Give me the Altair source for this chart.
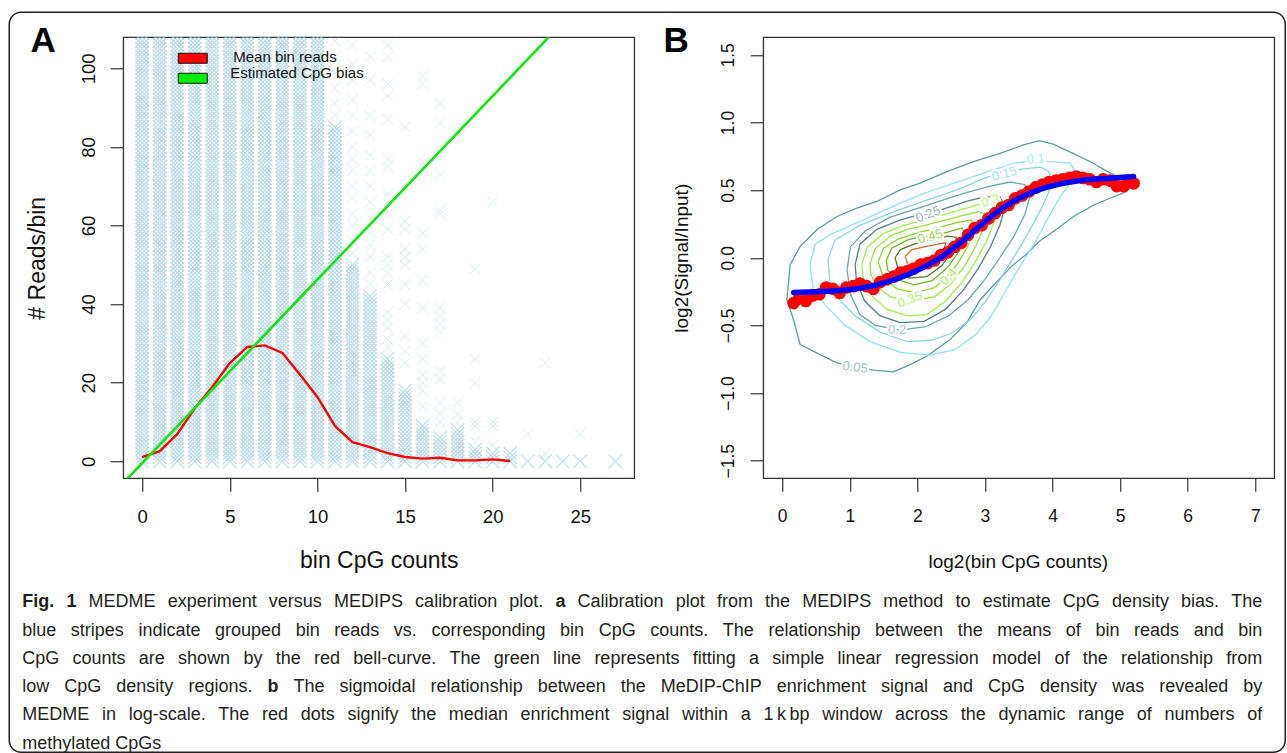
import altair as alt
import pandas as pd

FONT = "Liberation Sans"

# ---------------- Panel A: MEDIPS calibration ----------------
cpg_counts = list(range(28))
# every integer read count 0..stripe_top is present in the solid part of each stripe
stripe_top = [110, 110, 110, 110, 110, 110, 110, 110, 110, 110, 110, 85, 50, 42,
              26, 18, 9, 6, 8, 3, 2, 2, 0, 0, 0, 0, -1, 0]
sparse_reads = {
    11: [88, 91, 95, 99, 103, 107],
    12: [53, 56, 60, 63, 67, 70, 74, 77, 80, 84, 88, 92, 97, 101, 106],
    13: [45, 48, 52, 55, 58, 62, 66, 70, 74, 78, 83, 88, 97, 103],
    14: [29, 31, 34, 36, 38, 45, 48, 50, 52, 59, 63, 68, 75, 77, 87, 93, 96, 103, 106],
    15: [25, 28, 32, 40, 45, 50, 52, 54, 59, 61, 85],
    16: [14, 18, 20, 22, 26, 30, 39, 46, 54, 58, 76, 96, 98],
    17: [10, 12, 15, 21, 23, 33, 35, 37, 39, 63, 64, 73, 86, 91],
    18: [10, 12, 15],
    19: [5, 9, 10, 20, 26, 49],
    20: [4, 9, 10, 66],
    22: [7],
    23: [2, 25],
    25: [7],
}
mean_cpg = list(range(22))
mean_reads = [1.1, 2.6, 6.9, 13.5, 18.9, 25.0, 29.1, 29.5, 27.6, 22.1, 16.4, 9.0,
              4.9, 3.6, 2.1, 1.1, 0.7, 0.9, 0.25, 0.25, 0.5, 0.1]
bias_cpg = [-1.1, 28.1]
bias_reads = [-5.6, 130.8]

# ---------------- Panel B: MEDME sigmoid ----------------
median_x = [0.17, 0.25, 0.35, 0.45, 0.55, 0.65, 0.75, 0.85, 0.95, 1.05, 1.15, 1.25,
            1.35, 1.45, 1.55, 1.65, 1.75, 1.85, 1.95, 2.05, 2.15, 2.25, 2.35, 2.45,
            2.55, 2.65, 2.75, 2.85, 2.95, 3.05, 3.15, 3.25, 3.35, 3.45, 3.55, 3.65,
            3.75, 3.85, 3.95, 4.05, 4.15, 4.25, 4.35, 4.45, 4.55, 4.65, 4.75, 4.85,
            4.95, 5.05, 5.15, 5.2]
median_y = [-0.335, -0.30, -0.32, -0.28, -0.27, -0.22, -0.23, -0.26, -0.22, -0.21, -0.19, -0.21,
            -0.23, -0.18, -0.16, -0.14, -0.11, -0.10, -0.08, -0.05, -0.04, -0.02, 0.02, 0.04,
            0.08, 0.11, 0.17, 0.22, 0.24, 0.29, 0.33, 0.37, 0.39, 0.44, 0.46, 0.49,
            0.52, 0.54, 0.56, 0.57, 0.58, 0.59, 0.60, 0.59, 0.58, 0.56, 0.58, 0.57,
            0.53, 0.53, 0.56, 0.55]
fit_x = [0.17, 0.9, 1.4, 1.89, 2.29, 2.63, 3.03, 3.42, 3.87, 4.36, 4.85, 5.2]
fit_y = [-0.256, -0.241, -0.20, -0.118, -0.015, 0.108, 0.28, 0.416, 0.514, 0.568, 0.588, 0.60]

contour_levels = ["0.05", "0.1", "0.15", "0.2", "0.25", "0.3", "0.35", "0.4", "0.45", "0.5", "0.55"]
contour_points = {
    "0.05": [(0.118, -0.052), (0.266, 0.084), (0.513, 0.207), (0.809, 0.305), (1.105, 0.367),
             (1.40, 0.416), (1.746, 0.502), (2.041, 0.551), (2.436, 0.637), (2.83, 0.711),
             (3.225, 0.772), (3.57, 0.834), (3.80, 0.866), (4.01, 0.84), (4.31, 0.77),
             (4.56, 0.71), (4.80, 0.64), (5.05, 0.576), (5.20, 0.55), (5.10, 0.49),
             (4.85, 0.44), (4.61, 0.39), (4.31, 0.305), (4.06, 0.21), (3.80, 0.12),
             (3.60, 0.02), (3.40, -0.06), (3.15, -0.19), (2.93, -0.31), (2.73, -0.48),
             (2.485, -0.605), (2.14, -0.728), (1.893, -0.79), (1.647, -0.843), (1.351, -0.83),
             (0.809, -0.777), (0.562, -0.716), (0.266, -0.642), (0.168, -0.458), (0.069, -0.31),
             (0.118, -0.052)],
    "0.1": [(0.41, -0.05), (0.49, 0.10), (0.71, 0.17), (1.11, 0.26), (1.64, 0.38), (2.04, 0.465),
            (2.29, 0.51), (2.71, 0.58), (3.12, 0.65), (3.45, 0.70), (3.74, 0.72), (3.96, 0.71),
            (4.26, 0.70), (4.33, 0.64), (4.26, 0.55), (4.11, 0.45), (3.92, 0.28), (3.75, 0.12),
            (3.60, 0.00), (3.45, -0.12), (3.28, -0.27), (3.08, -0.44), (2.86, -0.57),
            (2.56, -0.68), (2.19, -0.72), (1.75, -0.70), (1.30, -0.62), (0.93, -0.50),
            (0.64, -0.35), (0.46, -0.24), (0.41, -0.05)],
    "0.15": [(0.68, -0.01), (0.78, 0.13), (1.15, 0.24), (1.60, 0.33), (2.04, 0.41), (2.34, 0.46),
             (2.68, 0.52), (2.95, 0.58), (3.22, 0.63), (3.55, 0.655), (3.82, 0.67), (3.94, 0.64),
             (3.99, 0.58), (3.94, 0.48), (3.82, 0.35), (3.67, 0.21), (3.52, 0.08), (3.37, -0.04),
             (3.20, -0.18), (3.00, -0.33), (2.78, -0.46), (2.50, -0.56), (2.20, -0.61),
             (1.85, -0.62), (1.45, -0.55), (1.08, -0.43), (0.83, -0.30), (0.70, -0.16),
             (0.68, -0.01)],
    "0.2": [(0.96, -0.09), (1.01, 0.08), (1.23, 0.20), (1.60, 0.30), (2.04, 0.37), (2.34, 0.42),
            (2.71, 0.48), (3.08, 0.53), (3.37, 0.56), (3.59, 0.54), (3.67, 0.46), (3.59, 0.32),
            (3.42, 0.15), (3.22, 0.00), (3.00, -0.16), (2.75, -0.31), (2.46, -0.43),
            (2.12, -0.51), (1.75, -0.535), (1.38, -0.50), (1.15, -0.42), (1.01, -0.27),
            (0.96, -0.09)],
    "0.25": [(1.08, -0.05), (1.15, 0.10), (1.40, 0.21), (1.75, 0.28), (2.04, 0.32), (2.16, 0.32),
             (2.45, 0.37), (2.75, 0.42), (3.00, 0.45), (3.22, 0.45), (3.30, 0.38), (3.22, 0.24),
             (3.08, 0.08), (2.90, -0.08), (2.68, -0.24), (2.42, -0.38), (2.10, -0.47),
             (1.75, -0.48), (1.45, -0.43), (1.22, -0.32), (1.10, -0.18), (1.08, -0.05)],
    "0.3": [(1.18, -0.05), (1.26, 0.08), (1.50, 0.18), (1.80, 0.24), (2.04, 0.27), (2.40, 0.32),
            (2.75, 0.37), (3.08, 0.42), (3.18, 0.38), (3.14, 0.27), (3.02, 0.12), (2.86, -0.03),
            (2.66, -0.18), (2.42, -0.32), (2.14, -0.42), (1.85, -0.43), (1.55, -0.38),
            (1.32, -0.28), (1.20, -0.17), (1.18, -0.05)],
    "0.35": [(1.30, -0.04), (1.38, 0.07), (1.60, 0.16), (1.85, 0.21), (2.04, 0.23), (2.35, 0.27),
             (2.65, 0.31), (2.90, 0.34), (3.02, 0.32), (2.98, 0.22), (2.86, 0.08), (2.70, -0.06),
             (2.50, -0.19), (2.25, -0.29), (1.89, -0.32), (1.60, -0.29), (1.40, -0.21),
             (1.31, -0.12), (1.30, -0.04)],
    "0.4": [(1.42, -0.03), (1.50, 0.07), (1.72, 0.14), (2.04, 0.19), (2.30, 0.22), (2.58, 0.26),
            (2.80, 0.28), (2.86, 0.22), (2.75, 0.09), (2.60, -0.04), (2.46, -0.13), (2.26, -0.22),
            (1.97, -0.26), (1.70, -0.23), (1.50, -0.15), (1.42, -0.03)],
    "0.45": [(1.54, -0.02), (1.62, 0.07), (1.85, 0.13), (2.04, 0.155), (2.19, 0.157), (2.45, 0.19),
             (2.66, 0.22), (2.72, 0.17), (2.62, 0.05), (2.45, -0.07), (2.22, -0.17), (1.95, -0.20),
             (1.70, -0.16), (1.56, -0.09), (1.54, -0.02)],
    "0.5": [(1.67, 0.00), (1.75, 0.06), (1.95, 0.10), (2.20, 0.13), (2.45, 0.16), (2.58, 0.15),
            (2.52, 0.05), (2.36, -0.06), (2.14, -0.14), (1.88, -0.15), (1.72, -0.09), (1.67, 0.00)],
    "0.55": [(1.82, 0.01), (1.92, 0.06), (2.10, 0.08), (2.30, 0.10), (2.42, 0.11), (2.38, 0.04),
             (2.20, -0.04), (2.00, -0.08), (1.86, -0.05), (1.82, 0.01)],
}
label_levels = ["0.05", "0.1", "0.15", "0.2", "0.25", "0.3", "0.35", "0.4", "0.45"]
label_x = [1.08, 3.75, 3.29, 1.70, 2.16, 3.08, 1.89, 2.46, 2.19]
label_y = [-0.81, 0.73, 0.62, -0.535, 0.32, 0.42, -0.31, -0.14, 0.157]
label_angle = [8, 355, 345, 0, 340, 345, 340, 315, 345]

caption_lines = [
    "*Fig. *1 MEDME experiment versus MEDIPS calibration plot. *a Calibration plot from the MEDIPS method to estimate CpG density bias. The",
    "blue stripes indicate grouped bin reads vs. corresponding bin CpG counts. The relationship between the means of bin reads and bin",
    "CpG counts are shown by the red bell-curve. The green line represents fitting a simple linear regression model of the relationship from",
    "low CpG density regions. *b The sigmoidal relationship between the MeDIP-ChIP enrichment signal and CpG density was revealed by",
    "MEDME in log-scale. The red dots signify the median enrichment signal within a 1\u2009k\u2009bp window across the dynamic range of numbers of",
    "methylated CpGs",
]

# ---------------- styles ----------------
line_colors = ["#5B9BA1", "#8EE2EC", "#86D6E2", "#6AA6AE", "#557F86", "#A4EA55",
               "#95E33C", "#86D62A", "#6DBB28", "#55762F", "#CC6A2E"]
label_colors = ["#9CC4C9", "#A5EBF3", "#A0DFE8", "#A3C6CB", "#9DB3B7", "#B8F07A",
                "#B4EC75", "#A9E568", "#9ADA5E"]
X_PATH = "M-1,-1L1,1M-1,1L1,-1"
BOX = alt.ViewBackground(stroke="#333333", strokeWidth=1.3)

# ---------------- tables ----------------
dense_rows, sparse_rows = [], []
for c, top in zip(cpg_counts, stripe_top):
    if top >= 0:
        dense_rows += [{"x": c, "y": r} for r in range(0, top + 1)]
    sparse_rows += [{"x": c, "y": r} for r in sparse_reads.get(c, [])]
dense_df = pd.DataFrame(dense_rows)
sparse_df = pd.DataFrame(sparse_rows)
mean_df = pd.DataFrame({"x": mean_cpg, "y": mean_reads})
bias_df = pd.DataFrame({"x": bias_cpg, "y": bias_reads})

med_df = pd.DataFrame({"x": median_x, "y": median_y})
fit_df = pd.DataFrame({"x": fit_x, "y": fit_y})
crows = []
for lev in contour_levels:
    for i, (cx, cy) in enumerate(contour_points[lev]):
        crows.append({"level": lev, "i": i, "x": cx, "y": cy})
cont_df = pd.DataFrame(crows)
lab_df = pd.DataFrame({"level": label_levels, "x": label_x, "y": label_y, "ang": label_angle})


def one(text):
    return pd.DataFrame({"t": [text]})


# ---------------- Panel A ----------------
xA = alt.X("x:Q", scale=alt.Scale(domain=[-1.08, 28.08], nice=False, zero=False),
           axis=alt.Axis(values=[0, 5, 10, 15, 20, 25], title=None, grid=False, domain=False,
                         tickSize=13, tickColor="#333333", tickWidth=1.2, labelFont=FONT,
                         labelFontSize=18.5, labelColor="#111111", labelPadding=25,
                         labelBaseline="middle", labelFlush=False, labelOverlap=False))
yA = alt.Y("y:Q", scale=alt.Scale(domain=[-4.3, 107.9], nice=False, zero=False),
           axis=alt.Axis(values=[0, 20, 40, 60, 80, 100], title=None, grid=False, domain=False,
                         tickSize=13, tickColor="#333333", tickWidth=1.2, labelFont=FONT,
                         labelFontSize=18.5, labelColor="#111111", labelPadding=22,
                         labelAngle=270, labelAlign="center", labelBaseline="middle",
                         labelFlush=False, labelOverlap=False))

stripes = alt.Chart(dense_df).mark_point(
    shape=X_PATH, size=180, filled=False, color="#ADD8E6", strokeWidth=1.2, opacity=0.8, clip=True
).encode(x=xA, y=yA)
singles = alt.Chart(sparse_df).mark_point(
    shape=X_PATH, size=120, filled=False, color="#ADD8E6", strokeWidth=1, opacity=0.45, clip=True
).encode(x=xA, y=yA)
mean_line = alt.Chart(mean_df).mark_line(color="#FF0000", strokeWidth=2.4, clip=True).encode(x=xA, y=yA)
bias_line = alt.Chart(bias_df).mark_line(color="#13E313", strokeWidth=2.6, clip=True).encode(x=xA, y=yA)

leg_red = alt.Chart(one("r")).mark_rect(fill="#FF0000", stroke="#111111", strokeWidth=1).encode(
    x=alt.value(55), x2=alt.value(84), y=alt.value(16), y2=alt.value(26))
leg_green = alt.Chart(one("g")).mark_rect(fill="#00EE00", stroke="#111111", strokeWidth=1).encode(
    x=alt.value(55), x2=alt.value(84), y=alt.value(36), y2=alt.value(46))
leg_t1 = alt.Chart(one("Mean bin reads")).mark_text(
    align="left", baseline="alphabetic", font=FONT, fontSize=15, color="#111111"
).encode(x=alt.value(110), y=alt.value(25), text="t:N")
leg_t2 = alt.Chart(one("Estimated CpG bias")).mark_text(
    align="left", baseline="alphabetic", font=FONT, fontSize=15, color="#111111"
).encode(x=alt.value(107), y=alt.value(41), text="t:N")

titleA_x = alt.Chart(one("bin CpG counts")).mark_text(
    align="center", baseline="middle", font=FONT, fontSize=23, color="#111111"
).encode(x=alt.value(256), y=alt.value(524), text="t:N")
titleA_y = alt.Chart(one("# Reads/bin")).mark_text(
    align="center", baseline="middle", font=FONT, fontSize=23, color="#111111", angle=270
).encode(x=alt.value(-85), y=alt.value(221), text="t:N")
letterA = alt.Chart(one("A")).mark_text(
    align="center", baseline="middle", font=FONT, fontSize=35, fontWeight="bold", color="#000000"
).encode(x=alt.value(-80), y=alt.value(4), text="t:N")

panelA = alt.layer(stripes, singles, mean_line, bias_line, leg_red, leg_green,
                   leg_t1, leg_t2, titleA_x, titleA_y, letterA).properties(width=511, height=441, view=BOX)

# ---------------- Panel B ----------------
xB = alt.X("x:Q", scale=alt.Scale(domain=[-0.28, 7.28], nice=False, zero=False),
           axis=alt.Axis(values=[0, 1, 2, 3, 4, 5, 6, 7], title=None, grid=False, domain=False,
                         tickSize=13, tickColor="#333333", tickWidth=1.2, labelFont=FONT,
                         labelFontSize=17.5, labelColor="#111111", labelPadding=25,
                         labelBaseline="middle", labelFlush=False, labelOverlap=False))
yB = alt.Y("y:Q", scale=alt.Scale(domain=[-1.63, 1.63], nice=False, zero=False),
           axis=alt.Axis(values=[-1.5, -1.0, -0.5, 0.0, 0.5, 1.0, 1.5], format=".1f", title=None,
                         grid=False, domain=False, tickSize=13, tickColor="#333333", tickWidth=1.2,
                         labelFont=FONT, labelFontSize=17.5, labelColor="#111111", labelPadding=22,
                         labelAngle=270, labelAlign="center", labelBaseline="middle",
                         labelFlush=False, labelOverlap=False))

contours = alt.Chart(cont_df).mark_line(strokeWidth=1.3, clip=True).encode(
    x=xB, y=yB, detail="level:N", order="i:Q",
    stroke=alt.Stroke("level:N", scale=alt.Scale(domain=contour_levels, range=line_colors), legend=None))
halo = alt.Chart(lab_df).mark_text(font=FONT, fontSize=13, fill="white", stroke="white",
                                   strokeWidth=4, align="center", baseline="middle").encode(
    x=xB, y=yB, text="level:N", angle=alt.Angle("ang:Q", scale=None))
labels = alt.Chart(lab_df).mark_text(font=FONT, fontSize=13, align="center", baseline="middle").encode(
    x=xB, y=yB, text="level:N", angle=alt.Angle("ang:Q", scale=None),
    fill=alt.Fill("level:N", scale=alt.Scale(domain=label_levels, range=label_colors), legend=None))
medians = alt.Chart(med_df).mark_circle(size=160, color="#FF0000", opacity=1).encode(x=xB, y=yB)
fit = alt.Chart(fit_df).mark_line(color="#0000FF", strokeWidth=5.5, interpolate="monotone",
                                  strokeCap="round").encode(x=xB, y=yB)

titleB_x = alt.Chart(one("log2(bin CpG counts)")).mark_text(
    align="center", baseline="middle", font=FONT, fontSize=19, color="#111111"
).encode(x=alt.value(255), y=alt.value(525), text="t:N")
titleB_y = alt.Chart(one("log2(Signal/Input)")).mark_text(
    align="center", baseline="middle", font=FONT, fontSize=19, color="#111111", angle=270
).encode(x=alt.value(-81), y=alt.value(221), text="t:N")
letterB = alt.Chart(one("B")).mark_text(
    align="center", baseline="middle", font=FONT, fontSize=35, fontWeight="bold", color="#000000"
).encode(x=alt.value(-87), y=alt.value(4), text="t:N")

panelB = alt.layer(contours, halo, labels, medians, fit, titleB_x, titleB_y, letterB).properties(
    width=511, height=441, view=BOX)

# ---------------- Caption (justified, Liberation Sans = Arial metrics) ----------------
REG = {' ': 278, '!': 278, '"': 355, '#': 556, '$': 556, '%': 889, '&': 667, "'": 191, '(': 333,
       ')': 333, '*': 389, '+': 584, ',': 278, '-': 333, '.': 278, '/': 278, ':': 278, ';': 278,
       '?': 556, '\u2009': 200,
       'A': 667, 'B': 667, 'C': 722, 'D': 722, 'E': 667, 'F': 611, 'G': 778, 'H': 722, 'I': 278,
       'J': 500, 'K': 667, 'L': 556, 'M': 833, 'N': 722, 'O': 778, 'P': 667, 'Q': 778, 'R': 722,
       'S': 667, 'T': 611, 'U': 722, 'V': 667, 'W': 944, 'X': 667, 'Y': 667, 'Z': 611,
       'a': 556, 'b': 556, 'c': 500, 'd': 556, 'e': 556, 'f': 278, 'g': 556, 'h': 556, 'i': 222,
       'j': 222, 'k': 500, 'l': 222, 'm': 833, 'n': 556, 'o': 556, 'p': 556, 'q': 556, 'r': 333,
       's': 500, 't': 278, 'u': 556, 'v': 500, 'w': 722, 'x': 500, 'y': 500, 'z': 500}
BOLD = {'F': 611, 'i': 278, 'g': 611, '.': 278, '1': 556, 'a': 556, 'b': 611}
CAP_SIZE = 18
CAP_LEFT = -101
CAP_WIDTH = 1240
CAP_BASE = [27, 55.3, 83.6, 111.9, 140.2, 168.5]


def tw(word, bold):
    table = BOLD if bold else REG
    return sum(table.get(ch, REG.get(ch, 556)) for ch in word) / 1000.0 * CAP_SIZE


words = []
for li, line in enumerate(caption_lines):
    toks = []
    for tok in line.split(" "):
        bold = tok.startswith("*")
        toks.append((tok.lstrip("*"), bold))
    widths = [tw(t, b) for t, b in toks]
    if li < len(caption_lines) - 1 and len(toks) > 1:
        gap = (CAP_WIDTH - sum(widths)) / (len(toks) - 1)
    else:
        gap = REG[' '] / 1000.0 * CAP_SIZE
    cx = CAP_LEFT
    for (t, b), w in zip(toks, widths):
        words.append({"w": t, "px": cx, "py": CAP_BASE[li], "bold": b})
        cx += w + gap
words_df = pd.DataFrame(words)

cap_reg = alt.Chart(words_df[~words_df.bold]).mark_text(
    align="left", baseline="alphabetic", font=FONT, fontSize=CAP_SIZE, color="#231F20"
).encode(x=alt.X("px:Q", scale=None, axis=None), y=alt.Y("py:Q", scale=None, axis=None), text="w:N")
cap_bold = alt.Chart(words_df[words_df.bold]).mark_text(
    align="left", baseline="alphabetic", font=FONT, fontSize=CAP_SIZE, fontWeight="bold", color="#231F20"
).encode(x=alt.X("px:Q", scale=None, axis=None), y=alt.Y("py:Q", scale=None, axis=None), text="w:N")
frame = alt.Chart(one("f")).mark_rect(
    fillOpacity=0, stroke="#231F20", strokeWidth=1.5, cornerRadius=12
).encode(x=alt.value(-114), x2=alt.value(1162), y=alt.value(-568), y2=alt.value(172))

caption = alt.layer(frame, cap_reg, cap_bold).properties(width=1139, height=150)

top = alt.hconcat(panelA, panelB, spacing=129, bounds="flush")
# the nested row counts as zero height under flush bounds, so the spacing carries the panel height
chart = alt.vconcat(top, caption, spacing=543, bounds="flush").properties(
    padding={"left": 8.25, "top": 11.25, "right": 0, "bottom": 0}
).configure_view(strokeWidth=0)

chart.save("out.html", embed_options={"renderer": "svg", "actions": False})
